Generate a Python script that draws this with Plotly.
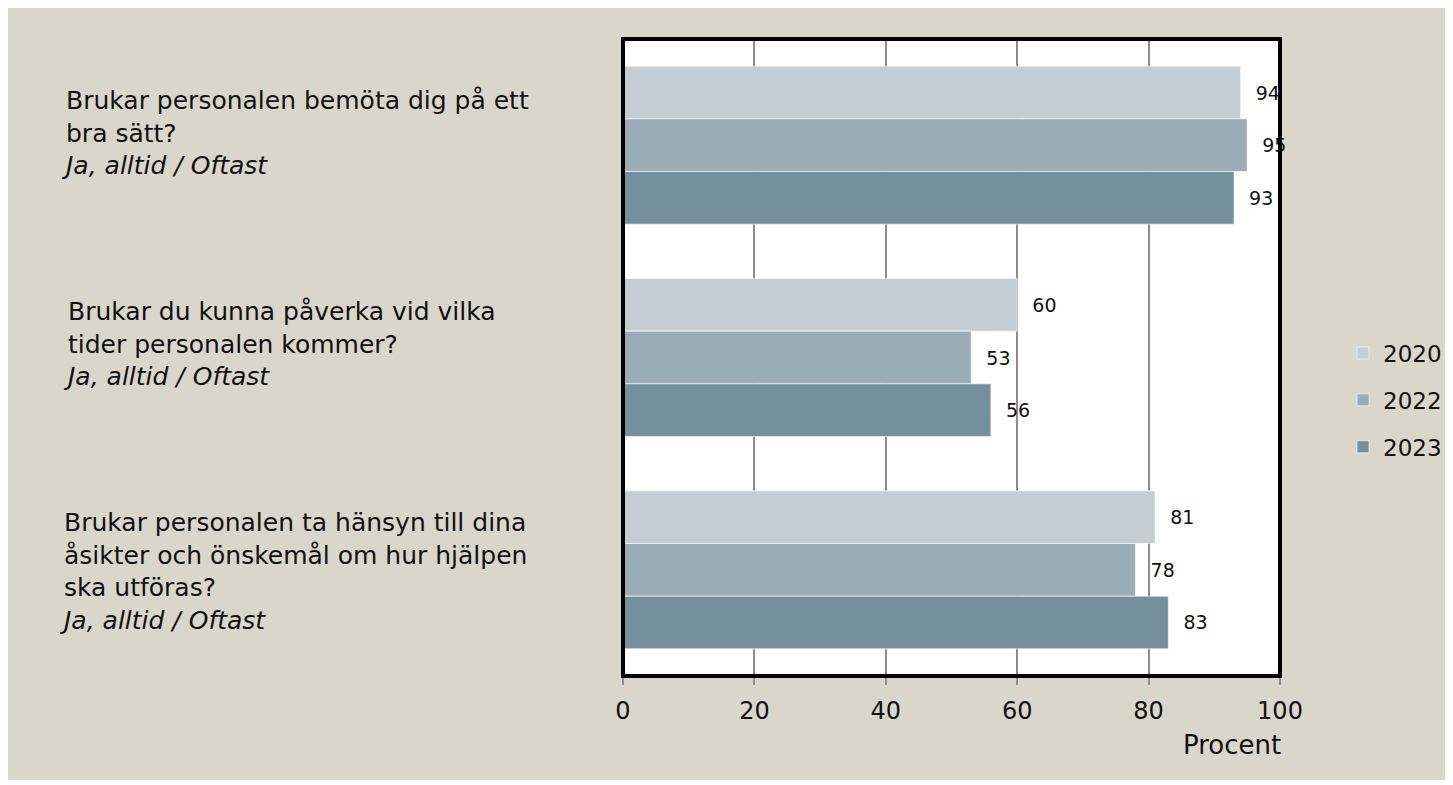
import plotly.graph_objects as go

categories = [
    "Brukar personalen bemöta dig på ett bra sätt?",
    "Brukar du kunna påverka vid vilka tider personalen kommer?",
    "Brukar personalen ta hänsyn till dina åsikter och önskemål om hur hjälpen ska utföras?",
]
category_labels = [
    "Brukar personalen bemöta dig på ett<br>bra sätt?<br><i>Ja, alltid / Oftast</i>",
    "Brukar du kunna påverka vid vilka<br>tider personalen kommer?<br><i>Ja, alltid / Oftast</i>",
    "Brukar personalen ta hänsyn till dina<br>åsikter och önskemål om hur hjälpen<br>ska utföras?<br><i>Ja, alltid / Oftast</i>",
]
years = ["2020", "2022", "2023"]
values_2020 = [94, 60, 81]
values_2022 = [95, 53, 78]
values_2023 = [93, 56, 83]
series = [values_2020, values_2022, values_2023]
colors = ["#C3CDD3", "#9AADB7", "#758F9C"]
x_ticks = [0, 20, 40, 60, 80, 100]

FONT = "DejaVu Sans"
W, H = 1445, 772
ML, MR, MT, MB = 615, 173, 31, 104
pw, ph = W - ML - MR, H - MT - MB
OFF = 8  # page body margin


def px_x(p):
    # page pixel x -> paper
    return (p - OFF - ML) / pw


def px_y(p):
    # page pixel y -> paper
    return (H - MB - (p - OFF)) / ph


fig = go.Figure()
for i, (yr, vals, col) in enumerate(zip(years, series, colors)):
    fig.add_trace(go.Bar(
        y=categories, x=vals, name=yr, orientation="h",
        marker=dict(color=col, line=dict(color="rgba(255,255,255,0.6)", width=1)),
        text=["\u00a0\u00a0" + str(v) for v in vals], textposition="outside",
        textfont=dict(family=FONT, size=19, color="#111111"),
        cliponaxis=False, legendgroup=yr,
    ))

annotations = []
label_tops = [84, 295, 506]
label_lefts = [59, 61, 57]
for lab, top, left in zip(category_labels, label_tops, label_lefts):
    annotations.append(dict(
        text=lab, xref="paper", yref="paper", x=px_x(left), y=px_y(top),
        xanchor="left", yanchor="top", align="left", showarrow=False,
        font=dict(family=FONT, size=25, color="#111111"),
    ))
annotations.append(dict(
    text="Procent", xref="paper", yref="paper", x=px_x(1232), y=px_y(745),
    xanchor="center", yanchor="middle", showarrow=False,
    font=dict(family=FONT, size=26, color="#111111"),
))

shapes = [
    dict(type="rect", xref="paper", yref="paper", layer="above",
         x0=0, x1=1, y0=0, y1=1, fillcolor="rgba(0,0,0,0)",
         line=dict(color="black", width=4)),
]

fig.update_layout(
    width=W, height=H,
    margin=dict(l=ML, r=MR, t=MT, b=MB, autoexpand=False),
    paper_bgcolor="#D9D7CB", plot_bgcolor="white",
    barmode="group", bargap=0.256, bargroupgap=0,
    font=dict(family=FONT, color="#111111"),
    xaxis=dict(range=[0, 100], tickvals=x_ticks, showgrid=True,
               gridcolor="#8C8C8C", gridwidth=1.5, zeroline=False,
               showline=True, linecolor="#8C8C8C", linewidth=2,
               ticks="outside", ticklen=7, tickcolor="#8C8C8C", tickwidth=2,
               ticklabelstandoff=5,
               tickfont=dict(family=FONT, size=24, color="#111111")),
    yaxis=dict(autorange="reversed", showticklabels=False, showgrid=False,
               zeroline=False, ticks=""),
    legend=dict(x=px_x(1343), y=px_y(400), xanchor="left", yanchor="middle",
                bgcolor="rgba(0,0,0,0)", traceorder="grouped",
                tracegroupgap=14, itemwidth=30,
                font=dict(family=FONT, size=23, color="#111111")),
    annotations=annotations, shapes=shapes,
)

fig.write_html("out.html")
